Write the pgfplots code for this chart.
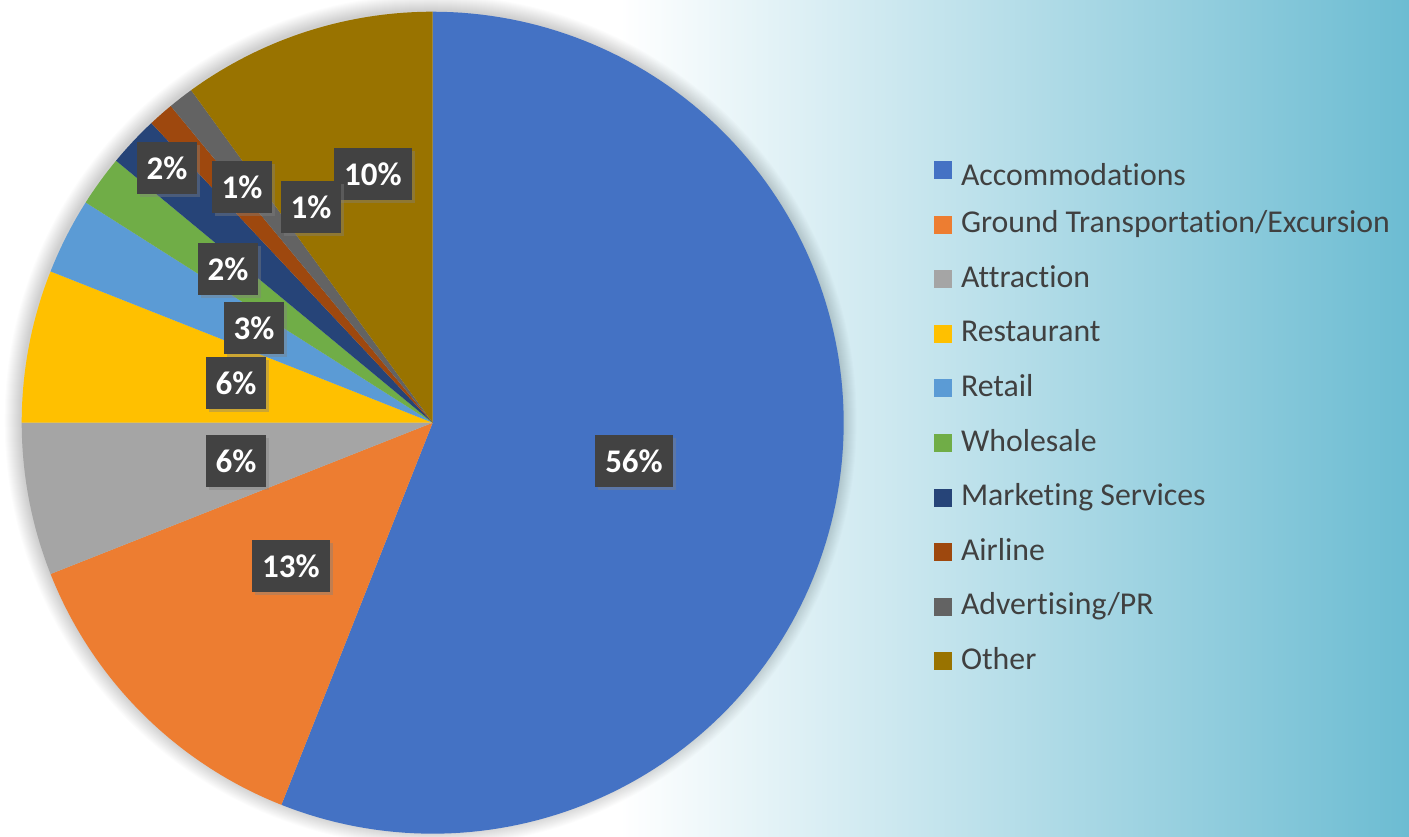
\documentclass[border=0pt]{standalone}
\usepackage{pgfplots}
\pgfplotsset{compat=1.18}
\usepackage{pgfplotstable}
\usepackage{fontspec}
\setmainfont{Carlito}[Ligatures=NoCommon]
\usetikzlibrary{shadows}

\definecolor{cAcc}{HTML}{4472C4}
\definecolor{cGro}{HTML}{ED7D31}
\definecolor{cAtt}{HTML}{A5A5A5}
\definecolor{cRes}{HTML}{FFC000}
\definecolor{cRet}{HTML}{5B9BD5}
\definecolor{cWho}{HTML}{70AD47}
\definecolor{cMar}{HTML}{264478}
\definecolor{cAir}{HTML}{9E480E}
\definecolor{cAdv}{HTML}{636363}
\definecolor{cOth}{HTML}{997300}
\definecolor{bgR}{RGB}{108,188,210}
\definecolor{txt}{HTML}{404040}
\definecolor{lblbg}{HTML}{424242}

% label boxes: position (px) and share (%)
\pgfplotstableread{
x y p
373 662 10
634 375 56
291 270 13
236 375 6
236 453 6
254 508 3
228 567 2
167 668 2
242 649 1
311 629 1
}\labeltab

% slice between cumulative shares #1 and #2 (percent), colour #3
\newcommand\slice[3]{%
  \pgfmathsetmacro\angA{90-3.6*#2}%
  \pgfmathsetmacro\angB{90-3.6*#1}%
  \edef\doslice{\noexpand\addplot[draw=none, fill=#3, domain=\angA:\angB, samples=150, variable=\noexpand\t]
    ({432.7+411*cos(\noexpand\t)},{413.3+411*sin(\noexpand\t)}) -- (axis cs:432.7,413.3) -- cycle;}%
  \doslice}

\begin{document}
\begin{tikzpicture}
\useasboundingbox (0pt,0pt) rectangle (1409pt,836pt);
\begin{scope}
\clip (0pt,0pt) rectangle (1409pt,836pt);
\fill[white] (0pt,0pt) rectangle (651pt,836pt);
\shade[left color=white, right color=bgR] (620pt,0pt) rectangle (1409pt,836pt);
\foreach \r in {411,412,...,426}{
  \fill[black, opacity=0.012] (430.7pt,415.3pt) circle (\r pt);
}
\end{scope}
\begin{axis}[
  at={(0pt,0pt)}, anchor=south west,
  x=1pt, y=1pt, xmin=0, xmax=1409, ymin=0, ymax=836,
  scale only axis, hide axis, clip=false,
  legend cell align=left,
  legend image code/.code={\fill[#1] (0pt,-8pt) rectangle (18pt,10pt);},
  legend style={at={(0.6629,0.8133)}, anchor=north west, draw=none, fill=none,
    inner sep=0pt, outer sep=0pt, font=\fontsize{31.8}{36}\selectfont, text=txt,
    row sep=24.6pt,
    nodes={inner sep=0pt, text height=22pt, text depth=8pt},
    /tikz/every odd column/.append style={column sep=9pt}},
]
\slice{0}{56}{cAcc}\addlegendentry{\raisebox{-7pt}{Accommodations}}
\slice{56}{69}{cGro}\addlegendentry{Ground Transportation/Excursion}
\slice{69}{75}{cAtt}\addlegendentry{Attraction}
\slice{75}{81}{cRes}\addlegendentry{Restaurant}
\slice{81}{84}{cRet}\addlegendentry{Retail}
\slice{84}{86}{cWho}\addlegendentry{Wholesale}
\slice{86}{88}{cMar}\addlegendentry{Marketing Services}
\slice{88}{89}{cAir}\addlegendentry{Airline}
\slice{89}{90}{cAdv}\addlegendentry{Advertising/PR}
\slice{90}{100}{cOth}\addlegendentry{Other}
\addplot[forget plot, draw=none, mark=none, point meta=explicit symbolic,
  nodes near coords={\pgfplotspointmeta\%},
  nodes near coords style={anchor=center, fill=lblbg, text=white, draw=none,
    font=\fontsize{33}{36}\selectfont\bfseries, inner xsep=10pt, inner ysep=0pt,
    minimum height=52pt,
    drop shadow={opacity=0.4, shadow xshift=3pt, shadow yshift=-3pt}}]
  table[x=x, y=y, meta=p] {\labeltab};
\end{axis}
\end{tikzpicture}
\end{document}
